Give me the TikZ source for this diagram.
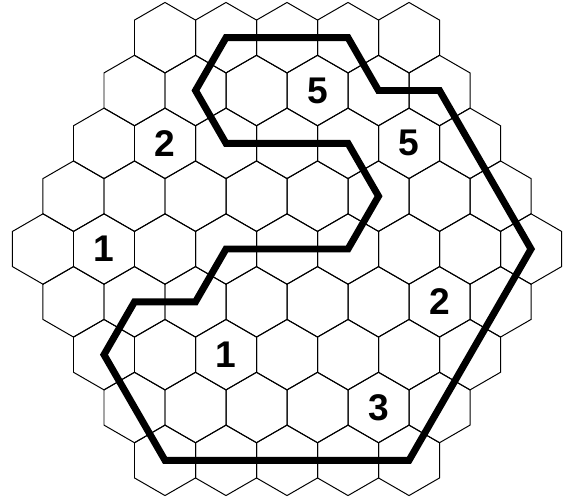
\documentclass[tikz,border=0pt]{standalone}
\usepackage{fontspec}
\setmainfont{Liberation Sans}
\usepackage{tikz}
\usetikzlibrary{shapes.geometric}

\begin{document}
\begin{tikzpicture}[
    cell/.style={regular polygon, regular polygon sides=6, shape border rotate=30, draw=black, line width=0.8pt, minimum size=2cm, inner sep=0pt, outer sep=0pt},
    clue/.style={font=\fontsize{30}{30}\selectfont\bfseries, inner sep=0pt},
    route/.style={line width=5.6pt, black},
]
    \useasboundingbox (-8.149,-7.155) rectangle (7.978,7.070);

    % --- Board: rows of 5 to 9 to 5 hexagons
    \foreach \r in {1,...,9}{
        \pgfmathtruncatemacro\len{9-abs(\r-5)}
        \foreach \k in {1,...,\len}{
            \node[cell] (c\r-\k) at ({sqrt(3)*(\k-(\len+1)/2)}, {1.5*(5-\r)}) {};
        }
    }

    % --- Clues
    \node[clue] (n1) at (c2-4) {5};
    \node[clue] (n2) at (c3-6) {5};
    \node[clue] (n3) at (c3-2) {2};
    \node[clue] (n4) at (c5-2) {1};
    \node[clue] (n5) at (c6-7) {2};
    \node[clue] (n6) at (c7-3) {1};
    \node[clue] (n7) at (c8-5) {3};

    % --- The closed loop through hex centres
    \draw[route] (c1-2.center) -- (c1-4.center) -- (c2-5.center) -- (c2-6.center)
        -- (c5-9.center) -- (c9-5.center) -- (c9-1.center) -- (c7-1.center)
        -- (c6-2.center) -- (c6-3.center) -- (c5-4.center) -- (c5-6.center)
        -- (c4-6.center) -- (c3-5.center) -- (c3-3.center) -- (c2-2.center) -- cycle;

\end{tikzpicture}
\end{document}
